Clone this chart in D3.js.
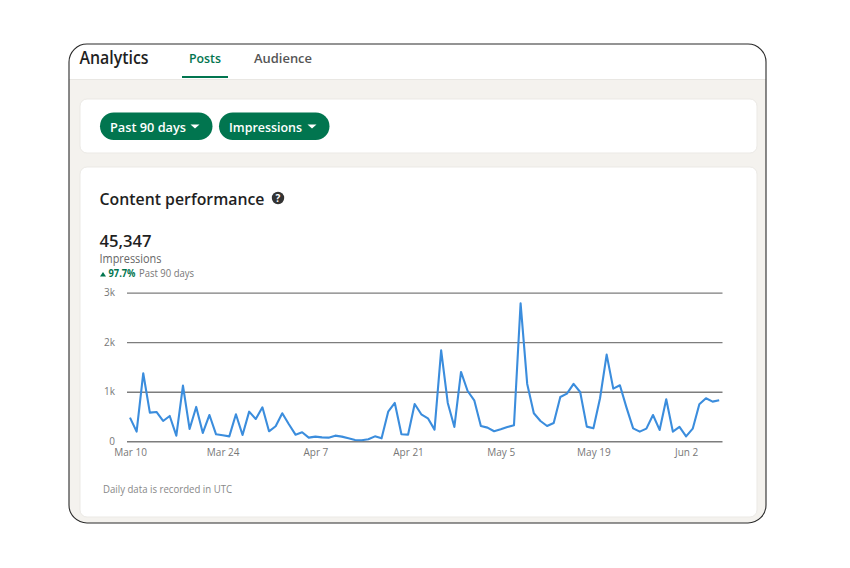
<!DOCTYPE html>
<html>
<head>
<meta charset="utf-8">
<script src="https://cdn.jsdelivr.net/npm/d3@7"></script>
<style>
  html, body { margin: 0; padding: 0; background: #fff; }
  svg { display: block; }
  text { font-family: "Open Sans", "Noto Sans", sans-serif; }
</style>
</head>
<body>
<div id="chart"></div>
<script>
// Daily impressions, one value per day from the first date below
const firstDay = "2024-03-10";
const impressions = [
  477, 195, 1372, 578, 592, 410, 511, 114, 1123, 249,
  693, 168, 531, 141, 121, 100, 545, 128, 598, 450,
  686, 202, 303, 565, 343, 134, 182, 74, 94, 80,
  74, 114, 94, 60, 27, 20, 40, 100, 60, 598,
  773, 141, 134, 753, 545, 464, 235, 1836, 773, 289,
  1399, 1015, 827, 309, 276, 202, 242, 289, 323, 2784,
  1157, 565, 410, 309, 370, 894, 962, 1157, 995, 296,
  262, 868, 1749, 1063, 1130, 679, 262, 195, 255, 531,
  229, 847, 195, 289, 100, 255, 746, 868, 800, 827
];
const yTicks = [0, 1000, 2000, 3000];
const yTickLabels = ["0", "1k", "2k", "3k"];
const xTickDates = ["2024-03-10", "2024-03-24", "2024-04-07", "2024-04-21", "2024-05-05", "2024-05-19", "2024-06-02"];
const filters = ["Past 90 days", "Impressions"];

const green = "#01754f";
const width = 850, height = 568;

const svg = d3.select("#chart").append("svg")
  .attr("width", width).attr("height", height);

// Page frame with a rounded outline, clipped so the grey panel follows the corners
const defs = svg.append("defs");
defs.append("clipPath").attr("id", "frame")
  .append("rect").attr("x", 69).attr("y", 44).attr("width", 697).attr("height", 479).attr("rx", 18);

const page = svg.append("g").attr("clip-path", "url(#frame)");
page.append("rect").attr("x", 69).attr("y", 44).attr("width", 697).attr("height", 479).attr("fill", "#fff");
page.append("rect").attr("x", 69).attr("y", 79).attr("width", 697).attr("height", 444).attr("fill", "#f4f2ee");
page.append("rect").attr("x", 69).attr("y", 79).attr("width", 697).attr("height", 1).attr("fill", "#e9e7e3");

// Header and tabs
svg.append("text").attr("x", 79.5).attr("y", 64).attr("font-size", 17.5).attr("font-weight", 600)
  .attr("fill", "#1f1f1f").attr("textLength", 69).attr("lengthAdjust", "spacingAndGlyphs").text("Analytics");
svg.append("text").attr("x", 189).attr("y", 63).attr("font-size", 13).attr("font-weight", 600)
  .attr("fill", green).attr("textLength", 32).attr("lengthAdjust", "spacingAndGlyphs").text("Posts");
svg.append("text").attr("x", 254).attr("y", 63).attr("font-size", 13).attr("font-weight", 600)
  .attr("fill", "#555").attr("textLength", 58).attr("lengthAdjust", "spacingAndGlyphs").text("Audience");
svg.append("rect").attr("x", 182).attr("y", 76).attr("width", 46).attr("height", 2).attr("fill", green);

// Filter card and content card
const cards = [[80, 99, 677, 54], [80, 167, 677, 350]];
svg.selectAll("rect.card").data(cards).join("rect").attr("class", "card")
  .attr("x", d => d[0]).attr("y", d => d[1]).attr("width", d => d[2]).attr("height", d => d[3])
  .attr("rx", 7).attr("fill", "#fff").attr("stroke", "#ebe9e5").attr("stroke-width", 1);

// Filter pills with dropdown carets
const pillBoxes = [[100, 112.5], [219, 110.5]];
const pills = svg.selectAll("g.pill").data(filters).join("g").attr("class", "pill")
  .attr("transform", (d, i) => `translate(${pillBoxes[i][0]},112.5)`);
pills.append("rect").attr("width", (d, i) => pillBoxes[i][1]).attr("height", 27.5).attr("rx", 13.75).attr("fill", green);
pills.append("text").attr("x", 10).attr("y", 19).attr("font-size", 13).attr("font-weight", 600).attr("fill", "#fff")
  .attr("textLength", (d, i) => [76, 73][i]).attr("lengthAdjust", "spacingAndGlyphs").text(d => d);
pills.append("path").attr("fill", "#fff")
  .attr("d", (d, i) => {
    const cx = [95, 93][i];
    return `M${cx - 4.5},12 L${cx + 4.5},12 L${cx},16 Z`;
  });

// Card heading and help icon
svg.append("text").attr("x", 99.5).attr("y", 205).attr("font-size", 16.5).attr("font-weight", 600)
  .attr("fill", "#1f1f1f").attr("textLength", 165).attr("lengthAdjust", "spacingAndGlyphs").text("Content performance");
svg.append("circle").attr("cx", 278).attr("cy", 198).attr("r", 6.2).attr("fill", "#333");
svg.append("text").attr("x", 278).attr("y", 201.5).attr("text-anchor", "middle").attr("font-size", 10)
  .attr("font-weight", 700).attr("fill", "#fff").text("?");

// Headline figure
svg.append("text").attr("x", 99.5).attr("y", 247).attr("font-size", 16.5).attr("font-weight", 600)
  .attr("fill", "#1f1f1f").attr("textLength", 52).attr("lengthAdjust", "spacingAndGlyphs").text("45,347");
svg.append("text").attr("x", 99.5).attr("y", 263).attr("font-size", 12).attr("fill", "#666")
  .attr("textLength", 62).attr("lengthAdjust", "spacingAndGlyphs").text("Impressions");
svg.append("path").attr("d", "M100,276.5 L106,276.5 L103,272 Z").attr("fill", green);
svg.append("text").attr("x", 108.5).attr("y", 277).attr("font-size", 10.5).attr("font-weight", 700).attr("fill", green)
  .attr("textLength", 27).attr("lengthAdjust", "spacingAndGlyphs").text("97.7%");
svg.append("text").attr("x", 139).attr("y", 277).attr("font-size", 10).attr("fill", "#777")
  .attr("textLength", 55).attr("lengthAdjust", "spacingAndGlyphs").text("Past 90 days");

// Scales: days along the bottom, impressions up the side
const parseDay = d3.utcParse("%Y-%m-%d");
const start = parseDay(firstDay);
const series = impressions.map((v, i) => ({ date: d3.utcDay.offset(start, i), value: v }));

const x = d3.scaleUtc()
  .domain([start, series[series.length - 1].date])
  .range([130, 719.2]);
const y = d3.scaleLinear().domain([0, 3000]).range([441.3, 292.6]);

// Horizontal grid lines with left-hand labels
const yAxis = svg.append("g").attr("transform", "translate(127,0)")
  .call(d3.axisLeft(y).tickValues(yTicks).tickSize(-595.5).tickPadding(12)
    .tickFormat((d, i) => yTickLabels[i]));
yAxis.select(".domain").remove();
yAxis.selectAll(".tick line").attr("stroke", "#7d7d7d").attr("stroke-width", 1.4);
yAxis.selectAll(".tick text").attr("font-size", 10).attr("fill", "#777").attr("font-family", null);

// Fortnightly date labels
const xAxis = svg.append("g").attr("transform", "translate(0,441.3)")
  .call(d3.axisBottom(x).tickValues(xTickDates.map(parseDay)).tickSize(0).tickPadding(8)
    .tickFormat(d3.utcFormat("%b %-d")));
xAxis.select(".domain").remove();
xAxis.selectAll(".tick text").attr("font-size", 10).attr("fill", "#777").attr("font-family", null);

// Impressions line
const line = d3.line().x(d => x(d.date)).y(d => y(d.value));
svg.append("path").datum(series).attr("d", line)
  .attr("fill", "none").attr("stroke", "#3b8ddd").attr("stroke-width", 2.1).attr("stroke-linejoin", "round");

// Footnote
svg.append("text").attr("x", 103).attr("y", 493).attr("font-size", 10).attr("fill", "#888")
  .attr("textLength", 129).attr("lengthAdjust", "spacingAndGlyphs").text("Daily data is recorded in UTC");

// Frame outline drawn last so it sits over the panels
svg.append("rect").attr("x", 69).attr("y", 44).attr("width", 697).attr("height", 479).attr("rx", 18)
  .attr("fill", "none").attr("stroke", "#2a2a2a").attr("stroke-width", 1.1);
</script>
</body>
</html>
